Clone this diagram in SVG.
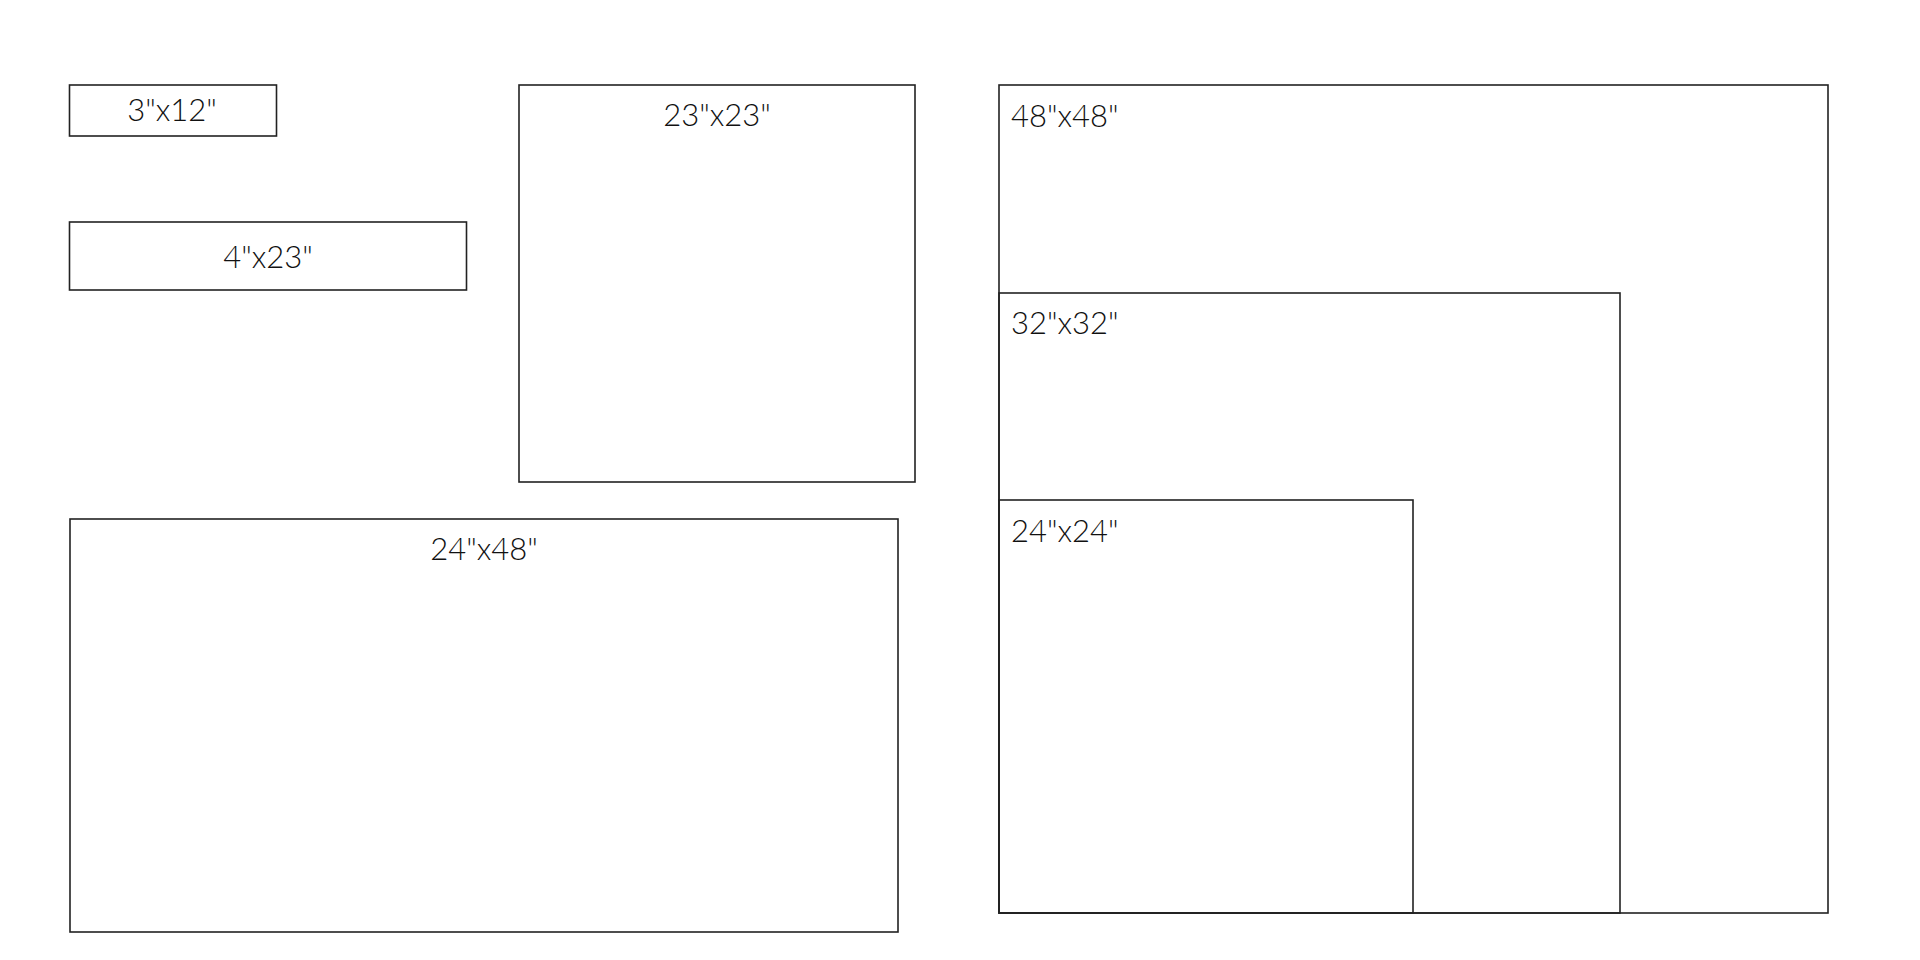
<svg xmlns="http://www.w3.org/2000/svg" width="1920" height="960" viewBox="0 0 1920 960">
<style>
.box{fill:none;stroke:#222;stroke-width:1.6}
.lbl{font-family:Lato,"Liberation Sans",Arial,sans-serif;font-weight:300;font-size:31px;fill:#111}
.c{text-anchor:middle}
</style>
<rect width="1920" height="960" fill="#fff"/>
<g id="n3x12"><rect class="box" x="69.5" y="85" width="207" height="51"/><text class="lbl c" x="172" y="121">3"x12"</text></g>
<g id="n4x23"><rect class="box" x="69.5" y="222" width="397" height="68"/><text class="lbl c" x="268" y="268">4"x23"</text></g>
<g id="n23x23"><rect class="box" x="519" y="85" width="396" height="397"/><text class="lbl c" x="717" y="126">23"x23"</text></g>
<g id="n24x48"><rect class="box" x="70" y="519" width="828" height="413"/><text class="lbl c" x="484" y="560">24"x48"</text></g>
<g id="n48x48"><rect class="box" x="999" y="85" width="829" height="828"/><text class="lbl" x="1011" y="127">48"x48"</text></g>
<g id="n32x32"><rect class="box" x="999" y="293" width="621" height="620"/><text class="lbl" x="1011" y="334">32"x32"</text></g>
<g id="n24x24"><rect class="box" x="999" y="500" width="414" height="413"/><text class="lbl" x="1011" y="542">24"x24"</text></g>
<g id="connectors"></g>
</svg>
